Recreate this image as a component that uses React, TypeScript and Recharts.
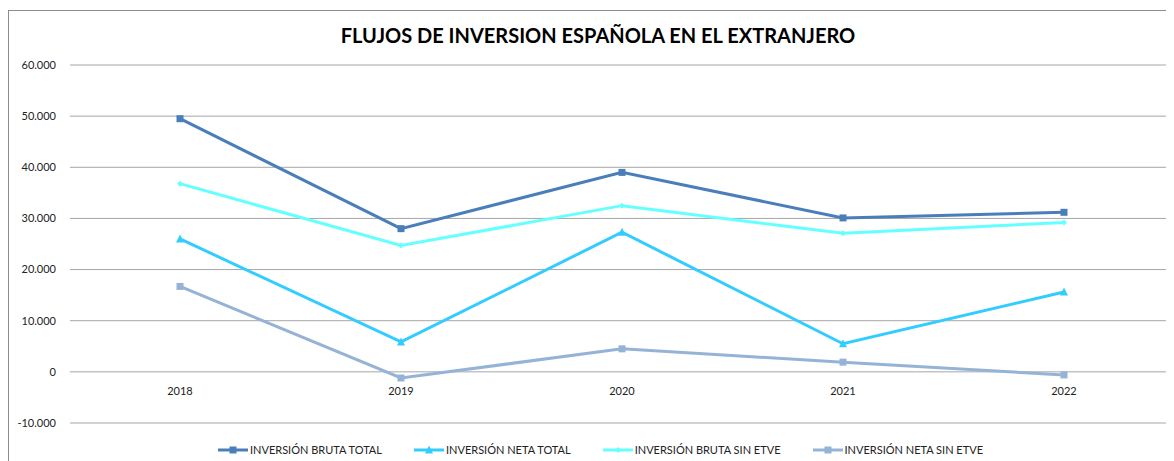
import { LineChart, Line, XAxis, YAxis, CartesianGrid } from "recharts";

const years = ["2018", "2019", "2020", "2021", "2022"];
const brutaTotal = [49500, 28000, 39000, 30100, 31200];
const netaTotal = [26000, 5850, 27300, 5500, 15600];
const brutaSinEtve = [36800, 24700, 32500, 27100, 29200];
const netaSinEtve = [16700, -1200, 4500, 1900, -600];
const yTicks = [-10000, 0, 10000, 20000, 30000, 40000, 50000, 60000];

const series = [
  { key: "brutaTotal", name: "INVERSIÓN BRUTA TOTAL", color: "#4a7ebb", marker: "square" },
  { key: "netaTotal", name: "INVERSIÓN NETA TOTAL", color: "#33ccff", marker: "triangle" },
  { key: "brutaSinEtve", name: "INVERSIÓN BRUTA SIN ETVE", color: "#66ffff", marker: "diamond" },
  { key: "netaSinEtve", name: "INVERSIÓN NETA SIN ETVE", color: "#95b3d7", marker: "square" },
];

const data = years.map((year, i) => ({
  year,
  brutaTotal: brutaTotal[i],
  netaTotal: netaTotal[i],
  brutaSinEtve: brutaSinEtve[i],
  netaSinEtve: netaSinEtve[i],
}));

const FONT = "Lato, 'Open Sans', sans-serif";

function formatThousands(v: number) {
  const s = Math.abs(v).toString().replace(/\B(?=(\d{3})+(?!\d))/g, ".");
  return v < 0 ? "-" + s : s;
}

function Marker({ type, color, cx, cy, size = 7 }: { type: string; color: string; cx: number; cy: number; size?: number }) {
  const h = size / 2;
  if (type === "triangle") {
    return <polygon points={`${cx},${cy - h - 1} ${cx - h - 0.5},${cy + h} ${cx + h + 0.5},${cy + h}`} fill={color} />;
  }
  if (type === "diamond") {
    const d = h - 0.5;
    return <polygon points={`${cx},${cy - d} ${cx + d},${cy} ${cx},${cy + d} ${cx - d},${cy}`} fill={color} />;
  }
  return <rect x={cx - h} y={cy - h} width={size} height={size} fill={color} />;
}

function makeDot(type: string, color: string) {
  return (props: any) => {
    const { cx, cy, index } = props;
    if (cx == null || cy == null) return <g key={index} />;
    return <Marker key={index} type={type} color={color} cx={cx} cy={cy} />;
  };
}

// category labels sit just under the zero line, as in the Excel original
const renderXTick = (props: any) => {
  const { x, y, payload } = props;
  return (
    <text x={x} y={y - 28} textAnchor="middle" fontSize={11} fill="#222" fontFamily={FONT}>
      {payload.value}
    </text>
  );
};

export default function App() {
  return (
    <div
      style={{
        marginTop: 2,
        width: 1166,
        height: 450,
        borderTop: "1px solid #8c8c8c",
        borderLeft: "1px solid #8c8c8c",
        position: "relative",
        background: "#fff",
      }}
    >
      <div
        style={{
          position: "absolute",
          top: 12,
          left: 0,
          width: 1178,
          textAlign: "center",
          fontFamily: FONT,
          fontWeight: 700,
          fontSize: 20,
          color: "#000",
          zIndex: 1,
        }}
      >
        FLUJOS DE INVERSION ESPAÑOLA EN EL EXTRANJERO
      </div>
      <LineChart width={1165} height={450} data={data} margin={{ top: 54, right: 0, left: 0, bottom: 37 }}>
        <CartesianGrid vertical={false} stroke="#a6a6a6" strokeWidth={1} />
        <XAxis
          dataKey="year"
          height={1}
          axisLine={false}
          tickLine={false}
          tickSize={0}
          tickMargin={0}
          padding={{ left: 110, right: 110 }}
          tick={renderXTick}
          interval={0}
        />
        <YAxis
          width={61}
          domain={[-10000, 60000]}
          ticks={yTicks}
          axisLine={false}
          tickLine={false}
          tickSize={0}
          tickMargin={14}
          tickFormatter={formatThousands}
          tick={{ fontSize: 11, fill: "#222", fontFamily: FONT }}
          interval={0}
        />
        {series.map((s) => (
          <Line
            key={s.key}
            type="linear"
            dataKey={s.key}
            name={s.name}
            stroke={s.color}
            strokeWidth={3}
            dot={makeDot(s.marker, s.color)}
            activeDot={false}
            isAnimationActive={false}
          />
        ))}
      </LineChart>
      <div
        style={{
          position: "absolute",
          top: 432,
          left: 9,
          width: 1165,
          display: "flex",
          justifyContent: "center",
          gap: 32,
          fontFamily: FONT,
          fontSize: 11,
          color: "#222",
        }}
      >
        {series.map((s) => (
          <div key={s.key} style={{ display: "flex", alignItems: "center" }}>
            <svg width={30} height={10}>
              <line x1={0} y1={5} x2={30} y2={5} stroke={s.color} strokeWidth={3} />
              <Marker type={s.marker} color={s.color} cx={15} cy={5} />
            </svg>
            <span style={{ marginLeft: 2 }}>{s.name}</span>
          </div>
        ))}
      </div>
    </div>
  );
}
